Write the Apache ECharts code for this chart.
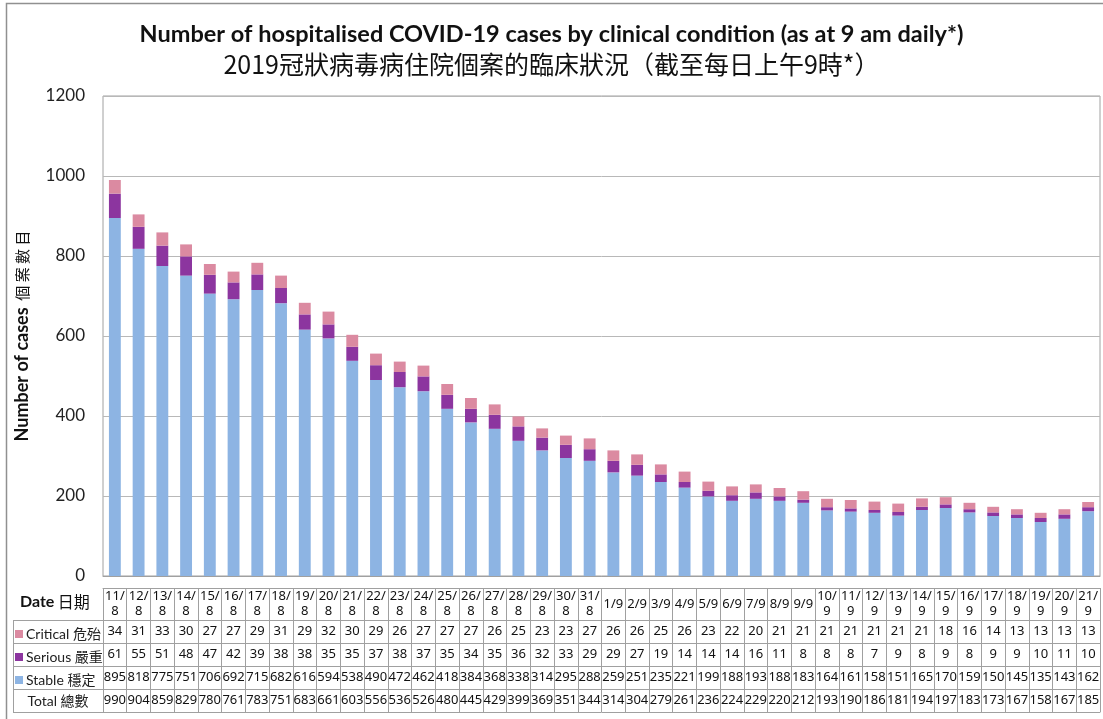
<!DOCTYPE html>
<html>
<head>
<meta charset="utf-8">
<script src="https://cdn.jsdelivr.net/npm/echarts@6/dist/echarts.min.js"></script>
<style>
  html, body { margin: 0; padding: 0; background: #fff; }
  #chart { width: 1103px; height: 719px; }
</style>
</head>
<body>
<div id="chart"></div>
<script>
// data
const dates = ['11/8', '12/8', '13/8', '14/8', '15/8', '16/8', '17/8', '18/8', '19/8', '20/8', '21/8',
  '22/8', '23/8', '24/8', '25/8', '26/8', '27/8', '28/8', '29/8', '30/8', '31/8',
  '1/9', '2/9', '3/9', '4/9', '5/9', '6/9', '7/9', '8/9', '9/9', '10/9', '11/9', '12/9',
  '13/9', '14/9', '15/9', '16/9', '17/9', '18/9', '19/9', '20/9', '21/9'];
const critical = [34, 31, 33, 30, 27, 27, 29, 31, 29, 32, 30,
  29, 26, 27, 27, 27, 26, 25, 23, 23, 27,
  26, 26, 25, 26, 23, 22, 20, 21, 21, 21, 21, 21, 21, 21, 18, 16, 14, 13, 13, 13, 13];
const serious = [61, 55, 51, 48, 47, 42, 39, 38, 38, 35, 35,
  37, 38, 37, 35, 34, 35, 36, 32, 33, 29,
  29, 27, 19, 14, 14, 14, 16, 11, 8, 8, 8, 7, 9, 8, 9, 8, 9, 9, 10, 11, 10];
const stable = [895, 818, 775, 751, 706, 692, 715, 682, 616, 594, 538,
  490, 472, 462, 418, 384, 368, 338, 314, 295, 288,
  259, 251, 235, 221, 199, 188, 193, 188, 183, 164, 161, 158, 151, 165, 170, 159, 150, 145, 135, 143, 162];
const total = [990, 904, 859, 829, 780, 761, 783, 751, 683, 661, 603,
  556, 536, 526, 480, 445, 429, 399, 369, 351, 344,
  314, 304, 279, 261, 236, 224, 229, 220, 212, 193, 190, 186, 181, 194, 197, 183, 173, 167, 158, 167, 185];

const names = ['Critical 危殆', 'Serious 嚴重', 'Stable 穩定'];
const colors = { critical: '#db8aa1', serious: '#8c359f', stable: '#8db4e3' };

const latin = 'Lato, "Noto Sans", sans-serif';
const cjk = 'Lato, "Noto Sans CJK TC", sans-serif';
const narrow = '"Liberation Sans Narrow", "Noto Sans", sans-serif';
const lineCol = '#a0a0a0';

// two line date labels like "11/\n8"
const dateLabels = dates.map(d => d.length > 3 ? d.replace('/', '/\n') : d);

// table rows: offset below the plot bottom and row height
const rows = [
  { data: dateLabels, offset: 12, h: 32 },
  { data: critical, offset: 44, h: 23 },
  { data: serious, offset: 67, h: 23 },
  { data: stable, offset: 90, h: 23 },
  { data: total, offset: 113, h: 23 }
];

function rowAxis(r) {
  return {
    type: 'category', gridIndex: 0, position: 'bottom', offset: r.offset,
    data: r.data.map(String), silent: true,
    axisLine: { show: true, onZero: false, lineStyle: { color: lineCol, width: 1 } },
    axisTick: { show: true, interval: 0, length: r.h, lineStyle: { color: lineCol, width: 1 } },
    axisLabel: {
      show: true, interval: 0, margin: r.h / 2, verticalAlign: 'middle',
      fontSize: 13, lineHeight: 15, color: '#111', fontFamily: narrow
    },
    splitLine: { show: false }
  };
}

const xAxes = [{
  type: 'category', data: dates, gridIndex: 0,
  axisLine: { show: true, onZero: false, lineStyle: { color: lineCol } },
  axisTick: { show: false }, axisLabel: { show: false }
}].concat(rows.map(rowAxis));
// closing line under the last row
xAxes.push({
  type: 'category', gridIndex: 0, position: 'bottom', offset: 136, data: dates, silent: true,
  axisLine: { show: true, onZero: false, lineStyle: { color: lineCol } },
  axisTick: { show: false }, axisLabel: { show: false }
});

function legendAt(name, top) {
  return {
    data: [name], left: 15, top: top, padding: 0, icon: 'rect',
    itemWidth: 8, itemHeight: 8, itemGap: 4, selectedMode: false,
    textStyle: { fontSize: 14, color: '#222', fontFamily: cjk, padding: [0, 0, 0, -2] }
  };
}

const headerLines = [];
[620, 643, 666, 689, 712].forEach(y => {
  headerLines.push({ type: 'line', shape: { x1: 13, y1: y + 0.5, x2: 103, y2: y + 0.5 },
    style: { stroke: lineCol, lineWidth: 1 }, silent: true });
});
headerLines.push({ type: 'line', shape: { x1: 13.5, y1: 620, x2: 13.5, y2: 712 },
  style: { stroke: lineCol, lineWidth: 1 }, silent: true });

const chart = echarts.init(document.getElementById('chart'), null, { renderer: 'canvas' });
chart.setOption({
  animation: false,
  backgroundColor: '#fff',
  title: [{
    text: 'Number of hospitalised COVID-19 cases by clinical condition (as at 9 am daily*)',
    left: 'center', top: 17,
    textStyle: { fontSize: 23.5, fontWeight: 'bold', color: '#111', fontFamily: latin }
  }, {
    text: '2019冠狀病毒病住院個案的臨床狀況（截至每日上午9時*）',
    left: 'center', top: 47,
    textStyle: { fontSize: 25, fontWeight: 'normal', color: '#111', fontFamily: '"Noto Sans CJK TC", sans-serif' }
  }],
  legend: [legendAt(names[0], 627), legendAt(names[1], 650), legendAt(names[2], 673)],
  grid: { left: 103, right: 3, top: 96, bottom: 143, show: true, borderColor: lineCol, borderWidth: 1 },
  xAxis: xAxes,
  yAxis: {
    type: 'value', min: 0, max: 1200, interval: 200,
    name: '{b|Number of cases}  {n|個 案 數 目}',
    nameLocation: 'middle', nameRotate: 90, nameGap: 72,
    nameTextStyle: {
      rich: {
        b: { fontSize: 18, fontWeight: 'bold', color: '#111', fontFamily: latin },
        n: { fontSize: 15, color: '#111', fontFamily: '"Noto Sans CJK TC", sans-serif' }
      }
    },
    axisLine: { show: false }, axisTick: { show: false },
    axisLabel: { fontSize: 17, color: '#222', margin: 18, fontFamily: latin, formatter: v => String(v) },
    splitLine: { lineStyle: { color: '#b8b8b8', width: 1 } }
  },
  series: [
    { name: names[2], type: 'bar', stack: 'cases', data: stable, barWidth: '50%',
      itemStyle: { color: colors.stable } },
    { name: names[1], type: 'bar', stack: 'cases', data: serious, barWidth: '50%',
      itemStyle: { color: colors.serious } },
    { name: names[0], type: 'bar', stack: 'cases', data: critical, barWidth: '50%',
      itemStyle: { color: colors.critical } }
  ],
  graphic: [
    // outer frame, only left and top edges fall inside the picture
    { type: 'rect', shape: { x: 6.5, y: 3.5, width: 1200, height: 800 },
      style: { fill: 'none', stroke: '#909090', lineWidth: 1.5 }, silent: true, z: 100 },
    { type: 'text', left: 20, top: 594,
      style: { text: '{b|Date} {n|日期}', rich: {
        b: { fontSize: 16, fontWeight: 'bold', fill: '#111', fontFamily: latin },
        n: { fontSize: 16, fill: '#111', fontFamily: '"Noto Sans CJK TC", sans-serif' } } } },
    { type: 'text', x: 58, y: 701,
      style: { text: 'Total 總數', align: 'center', verticalAlign: 'middle',
        fontSize: 14, fill: '#222', fontFamily: cjk } }
  ].concat(headerLines)
});
</script>
</body>
</html>
